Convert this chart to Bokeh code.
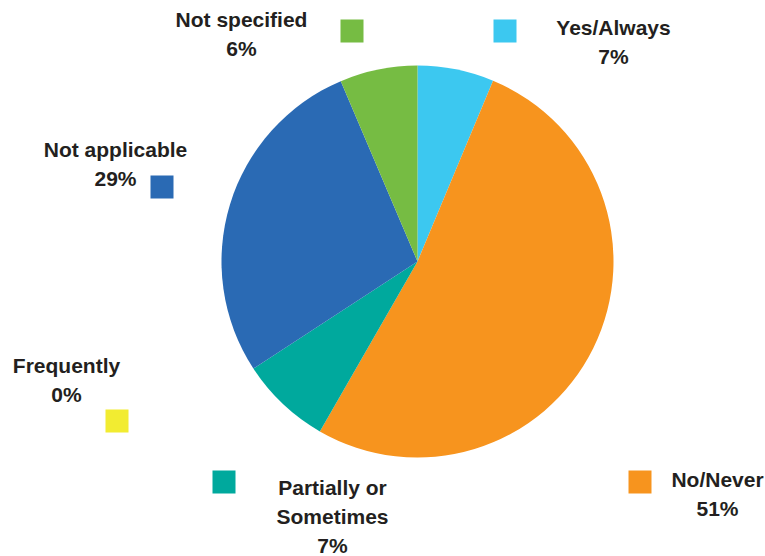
import math
from bokeh.plotting import figure
from bokeh.models import Range1d, ColumnDataSource
from bokeh.core.properties import value
from bokeh.embed import file_html
from bokeh.resources import INLINE

# ---- data ----
categories = ["Yes/Always", "No/Never", "Partially or Sometimes", "Frequently", "Not applicable", "Not specified"]
shares = [6.3, 52.0, 7.5, 0.0, 27.8, 6.4]          # slice sizes
pct_labels = ["7%", "51%", "7%", "0%", "29%", "6%"]  # printed percentages
label_lines = [["Yes/Always"], ["No/Never"], ["Partially or", "Sometimes"], ["Frequently"], ["Not applicable"], ["Not specified"]]
colors = ["#3CC8F0", "#F7941E", "#00A99D", "#F2EC31", "#2A6AB4", "#76BC43"]

W, H = 765, 556
def Y(py):
    return H - py

# ---- layout (pixel positions) ----
cx, cy, r = 417, 261, 196
square_pos = [(504.5, 30.5), (639.5, 481.5), (223.5, 481.5), (116.5, 420.5), (161.5, 186.5), (351.5, 30.5)]
label_pos = [(613, 35), (717, 487), (332, 495), (66, 373), (115, 157), (241, 27)]
line_gap = 29
text_shift = -8

p = figure(width=W, height=H, x_range=Range1d(0, W), y_range=Range1d(0, H),
           output_backend="svg", toolbar_location=None, min_border=0)
p.axis.visible = False
p.grid.visible = False
p.outline_line_color = None
p.background_fill_color = "white"
p.border_fill_color = "white"

# wedges, clockwise from 12 o'clock (zero-size slices are not drawn)
total = sum(shares)
wx, wy, starts, ends, wcol, wcat = [], [], [], [], [], []
cum = 0.0
for s, c, cat in zip(shares, colors, categories):
    a0 = math.pi / 2 - 2 * math.pi * cum / total
    cum += s
    a1 = math.pi / 2 - 2 * math.pi * cum / total
    if s > 0:
        wx.append(cx); wy.append(Y(cy))
        starts.append(a0); ends.append(a1)
        wcol.append(c); wcat.append(cat)
src = ColumnDataSource(dict(x=wx, y=wy, start=starts, end=ends, color=wcol, cat=wcat))
p.wedge(x="x", y="y", radius=r, start_angle="start", end_angle="end",
        direction="clock", fill_color="color", line_color=None, source=src)

# legend squares
p.rect(x=[q[0] for q in square_pos], y=[Y(q[1]) for q in square_pos],
       width=23, height=23, fill_color=colors, line_color=None)

# labels
tx, ty, tt = [], [], []
for lines, pct, (lx, ly) in zip(label_lines, pct_labels, label_pos):
    allines = lines + [pct]
    for i, t in enumerate(allines):
        tx.append(lx)
        ty.append(Y(ly + text_shift + i * line_gap))
        tt.append(t)
p.text(x=tx, y=ty, text=tt, text_align="center", text_baseline="alphabetic",
       text_font=value("Liberation Sans"), text_font_style="bold",
       text_font_size="21px", text_color="#231F20")

open("out.html", "w").write(file_html(p, INLINE))
